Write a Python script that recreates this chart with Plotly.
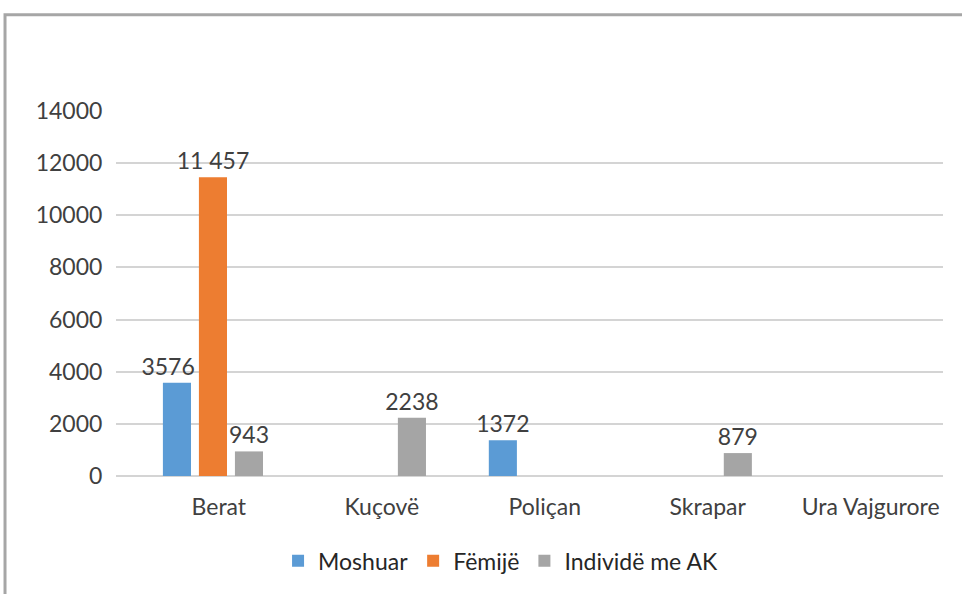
import plotly.graph_objects as go

categories = ["Berat", "Kuçovë", "Poliçan", "Skrapar", "Ura Vajgurore"]
moshuar = [3576, None, 1372, None, None]
femije = [11457, None, None, None, None]
individe = [943, 2238, None, 879, None]
NB = "\u00a0"
moshuar_lbl = ["3576" + NB * 3, "", "1372", "", ""]
femije_lbl = ["11 457", "", "", "", ""]
individe_lbl = ["943", "2238", "", "879", ""]
y_ticks = [0, 2000, 4000, 6000, 8000, 10000, 12000, 14000]

FONT = "Lato, Open Sans, sans-serif"
TXT = "#404040"

fig = go.Figure()
for name, vals, lbl, col in [
    ("Moshuar", moshuar, moshuar_lbl, "#5B9BD5"),
    ("Fëmijë", femije, femije_lbl, "#ED7D31"),
    ("Individë me AK", individe, individe_lbl, "#A5A5A5"),
]:
    fig.add_trace(go.Bar(
        x=list(range(len(categories))), y=vals, name=name, text=lbl,
        textposition="outside", cliponaxis=False, constraintext="none",
        textfont=dict(size=23, color=TXT, family=FONT),
        marker=dict(color=col, line=dict(width=0)),
        hoverinfo="skip",
    ))

fig.update_layout(
    width=962, height=594,
    margin=dict(l=116, r=19, t=111, b=116),
    paper_bgcolor="white", plot_bgcolor="white",
    barmode="group", bargap=0.337, bargroupgap=0.22,
    font=dict(family=FONT, size=23, color=TXT),
    showlegend=True,
    legend=dict(orientation="h", x=0.465, xanchor="center", y=-0.232, yanchor="middle",
                font=dict(size=23, color="#262626"), itemwidth=30, traceorder="normal"),
    xaxis=dict(tickmode="array", tickvals=list(range(len(categories))),
               ticktext=[NB * 2 + c for c in categories],
               range=[-0.595, 4.48], showgrid=False, zeroline=False, showline=False,
               ticks="outside", ticklen=10, tickcolor="rgba(0,0,0,0)",
               tickfont=dict(size=23, color=TXT)),
    yaxis=dict(range=[0, 14000], tickvals=y_ticks, ticktext=[str(v) for v in y_ticks],
               showgrid=True, gridcolor="#D4D4D4", gridwidth=2,
               zeroline=True, zerolinecolor="#D4D4D4", zerolinewidth=2,
               showline=False, ticks="outside", ticklen=8, tickcolor="rgba(0,0,0,0)",
               tickfont=dict(size=23, color=TXT)),
    shapes=[dict(type="rect", xref="paper", yref="paper",
                 x0=-0.1342, x1=2, y0=-1, y1=1.264,
                 line=dict(color="#A6A6A6", width=3), fillcolor="rgba(0,0,0,0)", layer="below")],
)

fig.write_html("out.html", config={"displayModeBar": False},
               post_script="document.body.style.margin='0';")
